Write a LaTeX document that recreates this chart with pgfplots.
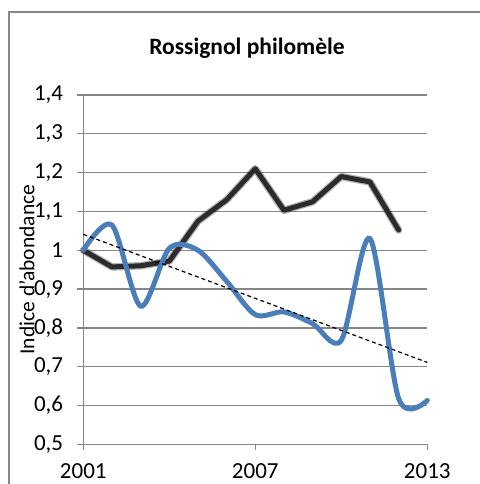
\documentclass[border=0pt]{standalone}
\usepackage{pgfplots}
\pgfplotsset{compat=1.18}
\usepackage{pgfplotstable}
\usepackage{fontspec}
\setmainfont{Carlito}

\definecolor{gridgray}{HTML}{878787}
\definecolor{seriesblue}{HTML}{4A7EBB}
\definecolor{seriesdark}{HTML}{2B2B2B}

% Indices d'abondance, base 1 en 2001
\pgfplotstableread{
year idx
2001 1.000
2002 0.957
2003 0.960
2004 0.972
2005 1.075
2006 1.130
2007 1.210
2008 1.103
2009 1.125
2010 1.190
2011 1.176
2012 1.052
}\darkdata

\pgfplotstableread{
year idx
2001 1.000
2002 1.065
2003 0.856
2004 1.005
2005 1.000
2006 0.920
2007 0.834
2008 0.841
2009 0.811
2010 0.768
2011 1.030
2012 0.618
2013 0.613
}\bluedata

% Tendance linéaire
\pgfplotstableread{
year idx
2001 1.041
2013 0.711
}\trenddata

\newcommand{\lblfont}{\fontsize{23bp}{27bp}\selectfont}

\begin{document}
\begin{tikzpicture}
\useasboundingbox (-83.3bp,-39.7bp) rectangle (396.7bp,444.3bp);
\draw[gridgray, line width=1.3bp] (-74.3bp,-45bp) -- (-74.3bp,432.3bp) -- (402bp,432.3bp);
\begin{axis}[
  at={(0,0)}, anchor=south west,
  scale only axis, width=344bp, height=349.3bp,
  xmin=2001, xmax=2013, ymin=0.5, ymax=1.4,
  xtick={2001,2007,2013},
  ytick={0.5,0.6,...,1.4},
  axis x line*=bottom, axis y line*=left,
  axis line style={draw=gridgray, line width=1.3bp, -},
  tick style={draw=gridgray, line width=1.3bp},
  tick align=outside, major tick length=6bp,
  ymajorgrids, grid style={draw=gridgray, line width=1.3bp},
  /pgf/number format/assume math mode=true,
  /pgf/number format/use comma,
  /pgf/number format/1000 sep={},
  ticklabel style={font=\lblfont, text=black},
  yticklabel style={anchor=east, inner sep=0pt, xshift=-14bp},
  xticklabel style={anchor=north, inner sep=0pt, yshift=-13bp},
  ylabel={Indice d'abondance},
  ylabel style={font=\fontsize{21.5bp}{25bp}\selectfont, at={(axis description cs:-0.164,0.5)}, anchor=center},
  clip=false,
]
\addplot[seriesdark, opacity=0.35, line width=7.5bp, line join=round, line cap=round] table[x=year, y=idx] {\darkdata};
\addplot[seriesdark, line width=5bp, line join=round, line cap=round] table[x=year, y=idx] {\darkdata};
\addplot[seriesblue, line width=5bp, smooth, tension=0.5, line cap=round] table[x=year, y=idx] {\bluedata};
\addplot[black, line width=1.2bp, dash pattern=on 4bp off 3bp] table[x=year, y=idx] {\trenddata};
\end{axis}
\node[font=\bfseries\fontsize{23.5bp}{27bp}\selectfont] at (163.7bp,396.3bp) {Rossignol philomèle};
\end{tikzpicture}
\end{document}
